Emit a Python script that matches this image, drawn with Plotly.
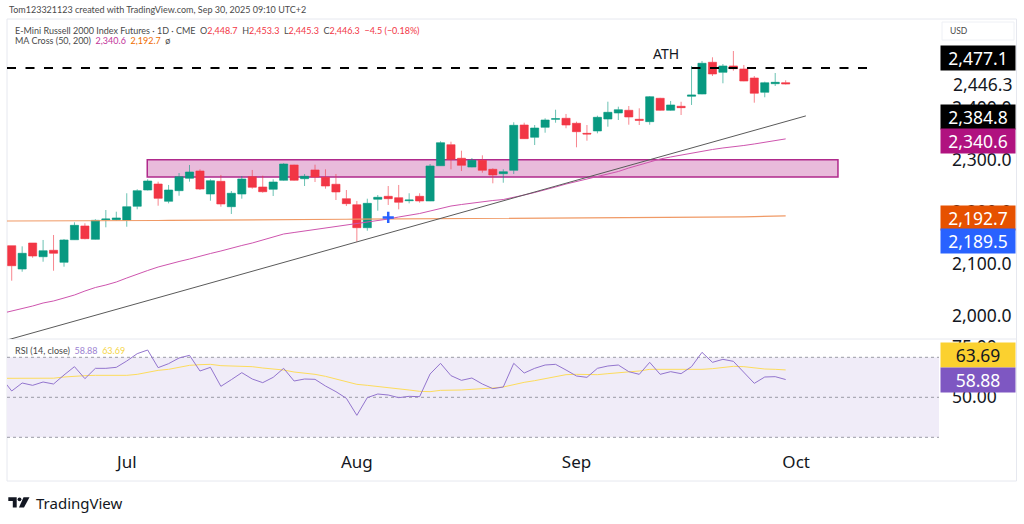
import plotly.graph_objects as go

W, H = 1024, 524

opens = [2135.2, 2090.4, 2140.4, 2114.0, 2126.4, 2103.3, 2146.7, 2173.1, 2147.5, 2185.2,
         2185.2, 2184.0, 2211.0, 2242.3, 2253.8, 2220.6, 2241.0, 2264.8, 2278.8, 2234.6,
         2259.0, 2210.2, 2234.6, 2267.9, 2248.1, 2243.7, 2261.0, 2290.4, 2264.0, 2280.8,
         2266.7, 2253.3, 2225.6, 2214.0, 2169.8, 2224.4, 2230.2, 2227.5, 2221.7, 2230.2,
         2221.2, 2289.0, 2329.4, 2303.3, 2286.5, 2299.4, 2282.1, 2273.7, 2280.2, 2367.3,
         2343.7, 2362.9, 2378.3, 2380.2, 2370.6, 2351.3, 2355.8, 2378.8, 2390.4, 2395.6,
         2378.3, 2373.7, 2418.7, 2395.6, 2403.3, 2422.5, 2426.9, 2487.9, 2468.6, 2480.8,
         2475.0, 2457.7, 2430.2, 2446.7, 2448.7]
highs = [2135.2, 2134.0, 2140.4, 2146.2, 2155.8, 2148.0, 2180.2, 2178.3, 2186.0, 2203.8,
         2200.6, 2236.0, 2243.7, 2262.9, 2258.3, 2252.0, 2275.0, 2290.4, 2282.1, 2262.9,
         2271.2, 2240.4, 2269.2, 2280.8, 2269.8, 2262.9, 2293.7, 2291.0, 2273.1, 2291.0,
         2282.1, 2273.1, 2242.3, 2221.2, 2225.6, 2232.7, 2250.0, 2252.0, 2236.0, 2236.0,
         2292.3, 2336.0, 2335.2, 2317.9, 2303.8, 2309.0, 2284.0, 2282.1, 2372.5, 2371.7,
         2367.3, 2380.2, 2396.7, 2388.5, 2373.7, 2367.3, 2385.2, 2412.1, 2402.5, 2403.8,
         2399.4, 2423.0, 2419.5, 2413.5, 2412.0, 2480.8, 2490.4, 2497.5, 2484.6, 2509.6,
         2482.7, 2461.5, 2450.6, 2467.3, 2453.3]
lows = [2067.9, 2085.2, 2112.1, 2104.4, 2087.1, 2094.8, 2146.2, 2147.5, 2147.0, 2170.6,
        2183.3, 2171.7, 2205.2, 2241.5, 2212.1, 2216.7, 2231.3, 2258.3, 2242.3, 2221.7,
        2210.2, 2196.2, 2225.6, 2244.8, 2237.1, 2230.8, 2260.2, 2260.2, 2250.0, 2257.7,
        2244.8, 2223.1, 2211.5, 2142.9, 2164.0, 2202.5, 2213.5, 2205.2, 2216.7, 2217.9,
        2221.0, 2288.5, 2282.1, 2278.8, 2286.0, 2275.6, 2255.2, 2256.3, 2273.1, 2340.5,
        2328.8, 2352.5, 2371.7, 2361.0, 2324.4, 2337.1, 2351.3, 2364.0, 2376.9, 2367.9,
        2367.3, 2367.9, 2394.8, 2394.8, 2386.5, 2405.8, 2426.5, 2461.5, 2447.5, 2471.7,
        2451.5, 2410.2, 2420.6, 2442.3, 2445.3]
closes = [2096.7, 2120.6, 2115.4, 2125.6, 2120.6, 2146.2, 2174.4, 2148.7, 2184.0, 2186.5,
          2188.5, 2210.2, 2241.0, 2259.6, 2226.3, 2242.3, 2267.9, 2276.9, 2244.2, 2260.2,
          2215.4, 2236.0, 2263.5, 2247.5, 2239.0, 2257.7, 2292.3, 2261.0, 2268.7, 2267.3,
          2250.0, 2238.5, 2216.0, 2169.8, 2216.7, 2228.3, 2225.6, 2218.7, 2223.1, 2221.2,
          2288.5, 2333.3, 2301.3, 2289.8, 2299.4, 2280.2, 2271.2, 2277.5, 2366.7, 2341.0,
          2361.5, 2376.9, 2379.4, 2367.3, 2354.4, 2350.0, 2382.1, 2391.7, 2396.7, 2382.7,
          2376.3, 2421.7, 2395.6, 2405.8, 2400.6, 2425.0, 2486.0, 2465.4, 2480.8, 2475.6,
          2451.9, 2428.3, 2448.6, 2449.4, 2446.3]

# moving averages and rsi start one bar left of the first candle, it is clipped by the pane
ma50 = [2004.8, 2009.6, 2013.5, 2019.2, 2025.0, 2028.9, 2034.6, 2040.4, 2048.1, 2054.8,
        2059.6, 2065.4, 2073.1, 2080.8, 2087.5, 2094.2, 2100.0, 2104.8, 2109.6, 2115.4,
        2120.2, 2125.0, 2130.8, 2135.6, 2140.4, 2146.2, 2151.9, 2157.7, 2160.6, 2163.5,
        2166.4, 2169.2, 2172.1, 2175.0, 2176.9, 2179.8, 2183.7, 2186.5, 2190.4, 2193.3,
        2197.1, 2201.9, 2206.7, 2211.5, 2214.4, 2217.3, 2219.2, 2222.1, 2224.0, 2227.9,
        2232.7, 2237.5, 2242.3, 2248.1, 2253.8, 2258.7, 2264.4, 2268.3, 2273.1, 2277.9,
        2284.6, 2290.4, 2297.1, 2301.9, 2305.8, 2309.6, 2313.5, 2317.3, 2320.2, 2323.1,
        2325.0, 2327.9, 2330.8, 2333.7, 2336.5, 2340.6]
ma200 = [2182.7, 2182.7, 2182.6, 2182.6, 2182.5, 2182.5, 2182.4, 2182.4, 2182.5, 2182.6,
         2182.7, 2182.9, 2183.1, 2183.3, 2183.5, 2183.7, 2183.9, 2184.1, 2184.3, 2184.5,
         2184.6, 2184.7, 2184.9, 2185.0, 2185.1, 2185.3, 2185.4, 2185.5, 2185.6, 2185.7,
         2185.8, 2185.9, 2186.0, 2186.1, 2186.2, 2186.3, 2186.4, 2186.4, 2186.5, 2186.5,
         2186.5, 2186.6, 2186.6, 2186.7, 2186.7, 2186.8, 2186.8, 2186.9, 2187.0, 2187.1,
         2187.2, 2187.3, 2187.4, 2187.5, 2187.6, 2187.7, 2187.8, 2187.9, 2188.0, 2188.1,
         2188.2, 2188.4, 2188.5, 2188.6, 2188.8, 2189.0, 2189.2, 2189.4, 2189.6, 2189.9,
         2190.2, 2190.6, 2191.0, 2191.4, 2192.0, 2192.7]
rsi = [59.8, 53.15, 57.15, 55.98, 57.65, 56.65, 61.15, 65.32, 59.32, 64.48,
       64.48, 64.98, 68.15, 71.82, 73.65, 64.82, 66.82, 69.65, 70.98, 63.15,
       64.98, 55.48, 58.82, 62.32, 59.15, 57.32, 59.98, 64.48, 58.15, 59.15,
       58.98, 55.65, 52.82, 49.48, 40.98, 49.82, 51.65, 51.15, 49.82, 50.48,
       50.32, 61.65, 66.98, 60.82, 58.48, 59.65, 56.65, 54.32, 55.15, 66.98,
       62.15, 64.48, 66.15, 66.48, 63.65, 60.65, 59.98, 64.48, 65.65, 66.15,
       62.82, 61.48, 67.48, 61.48, 62.82, 61.82, 65.32, 72.48, 67.48, 68.98,
       67.98, 62.48, 56.98, 60.15, 60.32, 58.88]
rsi_ma = [59.48, 59.48, 59.48, 59.48, 59.5, 59.55, 60.15, 60.65, 60.82, 60.98,
          60.98, 60.98, 60.98, 61.48, 62.48, 63.48, 63.98, 64.98, 65.98, 66.32,
          66.48, 65.82, 65.73, 65.65, 65.32, 64.65, 64.15, 63.65, 62.65, 62.15,
          61.48, 60.48, 59.15, 57.82, 56.48, 55.98, 55.48, 54.82, 54.15, 53.65,
          52.98, 52.82, 53.48, 53.48, 53.65, 53.98, 54.15, 54.65, 55.15, 56.48,
          57.48, 58.32, 59.32, 60.48, 61.32, 61.48, 61.32, 61.32, 61.82, 62.15,
          62.65, 63.15, 63.98, 63.98, 63.82, 63.65, 63.82, 63.98, 64.32, 64.98,
          65.48, 65.32, 64.65, 64.15, 63.98, 63.69]

time_labels = ["Jul", "Aug", "Sep", "Oct"]
time_bars = [11, 33, 54, 75]
price_ticks = [2000, 2100, 2200, 2300, 2400, 2500]
rsi_ticks = [75, 50, 25]
rsi_bands = [70, 50, 30]

ath = 2477.1
last_close = 2446.3
zone_low, zone_high = 2267.3, 2300.6
zone_bars = [12.96, 79]
trend_bars = [-0.26, 75.93]
trend_prices = [1954.8, 2384.8]
ath_bars = [-0.45, 82.06]
cross_bar, cross_price = 36, 2189.5

GREEN, RED = "#089981", "#F23645"
FONT = "Noto Sans"
SMALL = "Lato"


# pixel helpers for page furniture only
def px(x):
    return x / W


def py(y):
    return 1 - y / H


bars = list(range(len(closes)))
line_bars = list(range(-1, len(ma50) - 1))

fig = go.Figure()
fig.add_trace(go.Candlestick(
    x=bars, open=opens, high=highs, low=lows, close=closes, whiskerwidth=0,
    increasing=dict(fillcolor=GREEN, line=dict(color="rgba(8,153,129,0.6)", width=1)),
    decreasing=dict(fillcolor=RED, line=dict(color="rgba(242,54,69,0.6)", width=1)),
    xaxis="x", yaxis="y"))
fig.add_trace(go.Scatter(x=line_bars, y=ma200, mode="lines", line=dict(color="#F09A66", width=1.2)))
fig.add_trace(go.Scatter(x=line_bars, y=ma50, mode="lines", line=dict(color="#CE55AE", width=1)))
fig.add_trace(go.Scatter(x=trend_bars, y=trend_prices, mode="lines", line=dict(color="#5A5A5A", width=1)))
fig.add_trace(go.Scatter(x=ath_bars, y=[ath, ath], mode="lines",
                         line=dict(color="#000000", width=2, dash="9px,9.5px")))
fig.add_trace(go.Scatter(x=[cross_bar], y=[cross_price], mode="markers",
                         marker=dict(symbol="cross-thin", size=8, line=dict(color="#2962FF", width=2.5))))
fig.add_trace(go.Scatter(x=line_bars, y=rsi_ma, mode="lines", line=dict(color="#FDDC5C", width=1),
                         xaxis="x2", yaxis="y2"))
fig.add_trace(go.Scatter(x=line_bars, y=rsi, mode="lines", line=dict(color="#9375CE", width=1),
                         xaxis="x2", yaxis="y2"))

shapes = [
    # outer frame and the pane separator
    dict(type="rect", xref="paper", yref="paper", x0=px(7), x1=px(1016.5), y0=py(481), y1=py(19),
         line=dict(color="#E6E8EF", width=1), layer="below"),
    dict(type="line", xref="paper", yref="paper", x0=px(7), x1=px(1016.5), y0=py(339), y1=py(339),
         line=dict(color="#E6E8EF", width=1), layer="below"),
    dict(type="rect", xref="paper", yref="paper", x0=px(942), x1=px(1014), y0=py(40), y1=py(22),
         line=dict(color="#EEF0F5", width=1), layer="below"),
    # supply zone
    dict(type="rect", xref="x", yref="y", x0=zone_bars[0], x1=zone_bars[1], y0=zone_low, y1=zone_high,
         fillcolor="#E9BBDB", line=dict(color="#B02A8C", width=1.5), layer="below"),
    # rsi band
    dict(type="rect", xref="x2 domain", yref="y2", x0=0, x1=1, y0=rsi_bands[2], y1=rsi_bands[0],
         fillcolor="#F0ECF8", line=dict(width=0), layer="below"),
]
for b in rsi_bands:
    shapes.append(dict(type="line", xref="x2 domain", yref="y2", x0=0, x1=1, y0=b, y1=b,
                       line=dict(color="#9A9CA6", width=1, dash="3px,3px"), layer="below"))


def logo_path(points):
    return "M" + " L".join(f"{px(x):.5f},{py(y):.5f}" for x, y in points) + " Z"


# tradingview logo
shapes.append(dict(type="path", xref="paper", yref="paper", fillcolor="#131722", line=dict(width=0),
                   path=logo_path([(8.3, 497.3), (16.7, 497.3), (16.7, 507.5), (12.8, 507.5), (12.8, 501), (8.3, 501)])))
shapes.append(dict(type="circle", xref="paper", yref="paper", fillcolor="#131722", line=dict(width=0),
                   x0=px(17.6), x1=px(21.4), y0=py(501.2), y1=py(497.4)))
shapes.append(dict(type="path", xref="paper", yref="paper", fillcolor="#131722", line=dict(width=0),
                   path=logo_path([(23.5, 497.3), (29.5, 497.3), (24, 507.5), (19, 507.5)])))


def note(text, x, y, size=9, color="#4A4A4A", family=SMALL, **kw):
    return dict(text=text, x=px(x), y=py(y), xref="paper", yref="paper", xanchor="left", yanchor="middle",
                showarrow=False, font=dict(family=family, size=size, color=color), **kw)


def badge(value, y, bg, color="#FFFFFF"):
    return dict(text=value, x=px(978), y=py(y), xref="paper", yref="paper", xanchor="center", yanchor="middle",
                width=74, height=24, bgcolor=bg, borderpad=0, showarrow=False,
                font=dict(family=FONT, size=17.5, color=color))


def red(s):
    return f'<span style="color:{RED}">{s}</span>'


annotations = [
    note("Tom123321123 created with TradingView.com, Sep 30, 2025 09:10 UTC+2", 7, 10, size=9),
    note("E-Mini Russell 2000 Index Futures · 1D · CME&nbsp;&nbsp;O" + red(f"{opens[-1]:,.1f}")
         + "&nbsp;&nbsp;H" + red(f"{highs[-1]:,.1f}") + "&nbsp;&nbsp;L" + red(f"{lows[-1]:,.1f}")
         + "&nbsp;&nbsp;C" + red(f"{closes[-1]:,.1f}") + "&nbsp;&nbsp;" + red("−4.5 (−0.18%)"), 13, 30, size=9),
    note(f'MA Cross (50, 200)&nbsp;&nbsp;<span style="color:#C2359A">{ma50[-1]:,.1f}</span>&nbsp;&nbsp;'
         f'<span style="color:#EF6C00">{ma200[-1]:,.1f}</span>&nbsp;&nbsp;ø', 13, 41, size=9),
    note(f'RSI (14, close)&nbsp;&nbsp;<span style="color:#9C82D2">{rsi[-1]:.2f}</span>&nbsp;&nbsp;'
         f'<span style="color:#F5D547">{rsi_ma[-1]:.2f}</span>', 13, 350.5, size=9),
    note("USD", 948, 31, size=8.5),
    note("ATH", 651, 53, size=14, color="#131722", family=FONT),
    note("TradingView", 34, 503, size=15, color="#131722", family=FONT),
    note(f"{last_close:,.1f}", 951, 84, size=17.5, color="#131722", family=FONT),
    badge(f"{ath:,.1f}", 58, "#000000"),
    badge(f"{trend_prices[-1]:,.1f}", 117, "#000000"),
    badge(f"{ma50[-1]:,.1f}", 141, "#B0127F"),
    badge(f"{ma200[-1]:,.1f}", 217.5, "#E65100"),
    badge(f"{cross_price:,.1f}", 241, "#2962FF"),
    badge(f"{rsi_ma[-1]:.2f}", 355, "#FBD12F", "#131722"),
    badge(f"{rsi[-1]:.2f}", 379.5, "#7E57C2"),
]

x_range = [-0.45, 88.66]
fig.update_layout(
    width=W, height=H, margin=dict(l=0, r=0, t=0, b=0), autosize=False, showlegend=False,
    paper_bgcolor="#FFFFFF", plot_bgcolor="#FFFFFF", boxgap=0.22, boxgroupgap=0,
    shapes=shapes, annotations=annotations,
    xaxis=dict(domain=[px(7), px(939)], range=x_range, anchor="y", visible=False, automargin=False,
               rangeslider=dict(visible=False)),
    yaxis=dict(domain=[py(339), py(20)], range=[1955.8, 2569.2], anchor="x", side="right", automargin=False,
               tickvals=price_ticks, ticktext=[f"{p:,.1f}" for p in price_ticks], showgrid=False,
               zeroline=False, showline=False, ticks="", ticklabelstandoff=12,
               tickfont=dict(family=FONT, size=17.5, color="#131722")),
    xaxis2=dict(domain=[px(7), px(939)], range=x_range, anchor="y2", tickvals=time_bars, ticktext=time_labels,
                showgrid=False, zeroline=False, showline=False, ticks="", ticklabelstandoff=12, automargin=False,
                tickfont=dict(family=FONT, size=17, color="#131722")),
    yaxis2=dict(domain=[py(438), py(339)], range=[29.65, 79.15], anchor="x2", side="right", automargin=False,
                tickvals=rsi_ticks, ticktext=[f"{t:.2f}" for t in rsi_ticks], showgrid=False,
                zeroline=False, showline=False, ticks="", ticklabelstandoff=12,
                tickfont=dict(family=FONT, size=17.5, color="#131722")),
)

fig.write_html("out.html", config=dict(displayModeBar=False),
               post_script="document.body.style.margin='0';")
